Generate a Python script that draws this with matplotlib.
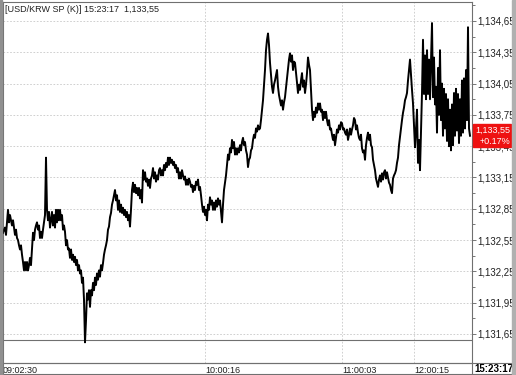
import matplotlib.pyplot as plt
from matplotlib.patches import Rectangle

# USD/KRW spot ticks (one sample per pixel column)
prices = [
    1132.62, 1132.65, 1132.67, 1132.60, 1132.72, 1132.84, 1132.72, 1132.79, 1132.74, 1132.69,
    1132.74, 1132.67, 1132.60, 1132.65, 1132.57, 1132.55, 1132.50, 1132.46, 1132.50, 1132.41,
    1132.34, 1132.26, 1132.34, 1132.26, 1132.34, 1132.26, 1132.31, 1132.38, 1132.31, 1132.46,
    1132.62, 1132.55, 1132.65, 1132.69, 1132.72, 1132.65, 1132.69, 1132.57, 1132.63, 1132.57,
    1132.65, 1132.72, 1132.79, 1133.34, 1132.84, 1132.74, 1132.82, 1132.67, 1132.74, 1132.82,
    1132.69, 1132.79, 1132.67, 1132.84, 1132.72, 1132.84, 1132.74, 1132.84, 1132.74, 1132.79,
    1132.65, 1132.69, 1132.63, 1132.50, 1132.55, 1132.46, 1132.47, 1132.38, 1132.46, 1132.36,
    1132.41, 1132.34, 1132.39, 1132.31, 1132.36, 1132.26, 1132.31, 1132.23, 1132.26, 1132.14,
    1132.19, 1131.98, 1131.57, 1131.78, 1132.04, 1131.98, 1132.07, 1131.91, 1132.07, 1132.02,
    1132.14, 1132.07, 1132.19, 1132.12, 1132.23, 1132.17, 1132.26, 1132.20, 1132.31, 1132.26,
    1132.33, 1132.41, 1132.46, 1132.50, 1132.55, 1132.65, 1132.68, 1132.77, 1132.81, 1132.89,
    1132.93, 1132.98, 1133.03, 1132.93, 1132.98, 1132.84, 1132.93, 1132.82, 1132.89, 1132.81,
    1132.86, 1132.79, 1132.84, 1132.77, 1132.82, 1132.74, 1132.79, 1132.68, 1132.84, 1133.03,
    1133.10, 1133.01, 1133.08, 1133.00, 1133.05, 1132.98, 1133.05, 1132.95, 1133.03, 1132.91,
    1133.22, 1133.13, 1133.20, 1133.11, 1133.14, 1133.07, 1133.13, 1133.05, 1133.14, 1133.17,
    1133.24, 1133.14, 1133.20, 1133.11, 1133.17, 1133.13, 1133.22, 1133.24, 1133.17, 1133.22,
    1133.17, 1133.27, 1133.22, 1133.29, 1133.25, 1133.34, 1133.27, 1133.34, 1133.29, 1133.32,
    1133.27, 1133.30, 1133.24, 1133.27, 1133.20, 1133.24, 1133.14, 1133.20, 1133.14, 1133.22,
    1133.17, 1133.13, 1133.16, 1133.08, 1133.13, 1133.08, 1133.14, 1133.11, 1133.06, 1133.08,
    1133.01, 1133.07, 1133.03, 1133.11, 1133.08, 1133.13, 1133.03, 1133.06, 1132.98, 1132.89,
    1132.82, 1132.87, 1132.79, 1132.84, 1132.74, 1132.89, 1132.84, 1132.96, 1132.89, 1132.93,
    1132.84, 1132.91, 1132.84, 1132.93, 1132.87, 1132.95, 1132.89, 1132.93, 1132.82, 1132.72,
    1132.89, 1133.03, 1133.10, 1133.17, 1133.27, 1133.37, 1133.32, 1133.43, 1133.39, 1133.51,
    1133.43, 1133.49, 1133.37, 1133.43, 1133.37, 1133.43, 1133.39, 1133.46, 1133.41, 1133.49,
    1133.53, 1133.46, 1133.49, 1133.41, 1133.37, 1133.25, 1133.32, 1133.34, 1133.41, 1133.43,
    1133.51, 1133.56, 1133.53, 1133.62, 1133.59, 1133.65, 1133.61, 1133.62, 1133.70, 1133.80,
    1133.89, 1134.04, 1134.18, 1134.37, 1134.47, 1134.53, 1134.42, 1134.25, 1134.13, 1134.02,
    1133.96, 1134.04, 1134.08, 1134.13, 1134.18, 1134.02, 1133.94, 1133.89, 1133.84, 1133.89,
    1133.80, 1133.87, 1133.92, 1134.01, 1134.10, 1134.18, 1134.28, 1134.34, 1134.26, 1134.32,
    1134.18, 1134.26, 1134.25, 1134.16, 1134.06, 1133.96, 1134.04, 1133.99, 1134.08, 1134.15,
    1134.02, 1134.08, 1133.96, 1134.04, 1134.15, 1134.30, 1134.23, 1134.18, 1133.99, 1133.80,
    1133.70, 1133.78, 1133.73, 1133.82, 1133.77, 1133.86, 1133.80, 1133.86, 1133.78, 1133.80,
    1133.70, 1133.78, 1133.72, 1133.78, 1133.70, 1133.65, 1133.70, 1133.61, 1133.62, 1133.56,
    1133.51, 1133.56, 1133.46, 1133.53, 1133.61, 1133.58, 1133.65, 1133.61, 1133.68, 1133.67,
    1133.61, 1133.62, 1133.58, 1133.56, 1133.61, 1133.51, 1133.56, 1133.62, 1133.56, 1133.61,
    1133.65, 1133.72, 1133.70, 1133.61, 1133.65, 1133.58, 1133.53, 1133.51, 1133.56, 1133.43,
    1133.39, 1133.41, 1133.32, 1133.46, 1133.53, 1133.58, 1133.51, 1133.56, 1133.46, 1133.44,
    1133.32, 1133.27, 1133.22, 1133.14, 1133.10, 1133.06, 1133.13, 1133.17, 1133.11, 1133.19,
    1133.13, 1133.20, 1133.22, 1133.14, 1133.20, 1133.15, 1133.10, 1133.08, 1133.03, 1133.00,
    1133.14, 1133.17, 1133.19, 1133.22, 1133.29, 1133.34, 1133.46, 1133.54, 1133.62, 1133.70,
    1133.77, 1133.82, 1133.89, 1133.92, 1133.96, 1134.08, 1134.18, 1134.28, 1134.13, 1133.99,
    1133.86, 1133.65, 1133.44, 1133.61, 1133.80, 1133.29, 1133.51, 1133.22, 1133.61, 1133.96,
    1134.47, 1133.95, 1134.32, 1133.90, 1134.37, 1133.95, 1134.28, 1133.90, 1134.25, 1134.63,
    1133.92, 1134.30, 1133.85, 1134.02, 1133.58, 1134.20, 1133.75, 1134.37, 1133.70, 1134.05,
    1133.55, 1134.00, 1133.62, 1133.95, 1133.50, 1133.90, 1133.45, 1133.80, 1133.41, 1133.85,
    1133.46, 1133.96, 1133.55, 1134.00, 1133.60, 1133.95, 1133.48, 1133.90, 1133.55, 1134.08,
    1133.58, 1134.10, 1133.62, 1134.18, 1133.70, 1134.59, 1133.62, 1133.55,
]

time_pos = [0, 202, 339, 411]
time_labels = ['09:02:30', '10:00:16', '11:00:03', '12:00:15']
last_time = '15:23:17'
last_price = '1,133,55'
change = '+0.17%'
title = '[USD/KRW SP (K)] 15:23:17  1,133,55'

price_ticks = [1131.65, 1131.95, 1132.25, 1132.55, 1132.85, 1133.15,
               1133.45, 1133.75, 1134.05, 1134.35, 1134.65]
price_labels = ['1,131,65', '1,131,95', '1,132,25', '1,132,55', '1,132,85', '1,133,15',
                '1,133,45', '1,133,75', '1,134,05', '1,134,35', '1,134,65']
minor_ticks = [1131.80, 1132.10, 1132.40, 1132.70, 1133.00, 1133.30,
               1133.60, 1133.90, 1134.20, 1134.50, 1134.80]
pane_split = 1131.59

W, H = 516, 375
plt.rcParams['font.family'] = ['Liberation Sans', 'DejaVu Sans']
fig = plt.figure(figsize=(W / 100, H / 100), dpi=100)
ax = fig.add_axes([3 / W, 12 / H, 469 / W, 361 / H])

ax.plot(range(len(prices)), prices, color='black', lw=1.4, zorder=3)
ax.set_xlim(0, 469)
ax.set_ylim(1131.372, 1134.832)

grid_kw = dict(color='#c8c8c8', lw=0.6, ls=(0, (2, 2)), zorder=1)
for p in price_ticks:
    ax.axhline(p, **grid_kw)
for x in time_pos[1:]:
    ax.axvline(x, **grid_kw)
ax.axhline(pane_split, color='#707070', lw=0.8, zorder=2)

ax.yaxis.tick_right()
ax.set_yticks(price_ticks)
ax.set_yticklabels(price_labels)
ax.set_yticks(minor_ticks, minor=True)
ax.tick_params(axis='y', which='major', length=3, width=0.6, color='#606060',
               labelsize=7, pad=1, labelcolor='#202020')
ax.tick_params(axis='y', which='minor', length=2, width=0.6, color='#606060')

ax.set_xticks(time_pos)
ax.set_xticklabels(time_labels, ha='left')
ax.tick_params(axis='x', length=0, labelsize=6.5, pad=2, labelcolor='#202020')

for s in ax.spines.values():
    s.set_color('#707070')
    s.set_linewidth(0.8)

ax.text(0.004, 0.992, title, transform=ax.transAxes, fontsize=6.5,
        va='top', ha='left', color='#202020')

# last price flag on the price axis
fig.patches.append(Rectangle((473 / W, (H - 147) / H), 38 / W, 23 / H,
                             transform=fig.transFigure, color='#ee1111', zorder=5))
fig.text(475 / W, (H - 130.5) / H, last_price, color='white', fontsize=6.5,
         va='center', ha='left', zorder=6)
fig.text(480 / W, (H - 141) / H, change, color='white', fontsize=6.5,
         va='center', ha='left', zorder=6)

# bottom time strip and outer frame
fig.patches.append(Rectangle((3 / W, 1 / H), 509 / W, 11 / H, transform=fig.transFigure,
                             fill=False, ec='#707070', lw=0.8, zorder=4))
fig.lines.append(plt.Line2D([472 / W, 472 / W], [1 / H, 12 / H], transform=fig.transFigure,
                            color='#707070', lw=0.8))
fig.text(474 / W, 6.5 / H, last_time, fontsize=7, fontweight='bold', va='center',
         ha='left', color='black')
fig.patches.append(Rectangle((512 / W, 0), 4 / W, 1, transform=fig.transFigure,
                             color='#b0b0b0', zorder=7))
fig.patches.append(Rectangle((0, 0), 1.5 / W, 1, transform=fig.transFigure,
                             color='#909090', zorder=7))

fig.savefig('out.png', dpi=100)
